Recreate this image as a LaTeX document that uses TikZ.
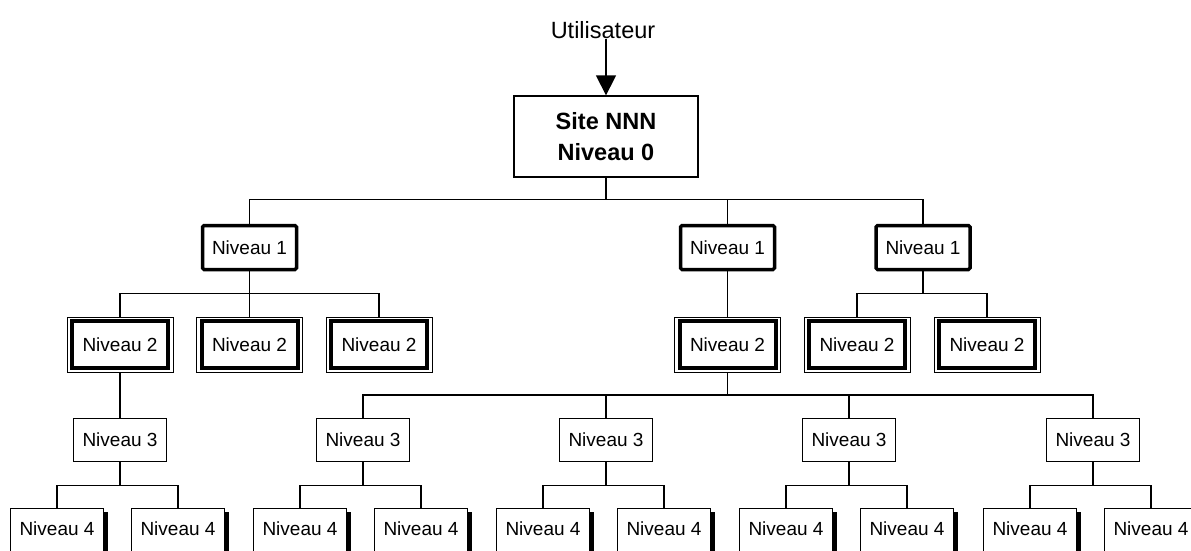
\documentclass[tikz,border=0pt]{standalone}
\usepackage{fontspec}
\setmainfont{Liberation Sans}
\usetikzlibrary{arrows.meta,shadows}
\begin{document}
\begin{tikzpicture}[x=1pt,y=-1pt,
  lbl/.style={font=\fontsize{19}{22}\selectfont, inner sep=0pt},
  conn/.style={line width=1.3pt},
  sitebox/.style={draw, line width=1.3pt, minimum width=184pt, minimum height=81pt, align=center,
     font=\bfseries\fontsize{23.5}{31}\selectfont, inner sep=0pt},
  levone/.style={lbl, draw, line width=3.5pt, rounded corners=1.5pt, minimum width=94pt, minimum height=44pt},
  levtwo/.style={lbl, draw, line width=1pt, minimum width=106pt, minimum height=55pt,
     path picture={\draw[line width=4pt] ([xshift=5pt,yshift=-4pt]path picture bounding box.north west) rectangle ([xshift=-5pt,yshift=4pt]path picture bounding box.south east);}},
  levthree/.style={lbl, draw, line width=1.3pt, minimum width=93pt, minimum height=43pt},
  levfour/.style={lbl, draw, fill=white, line width=1.3pt, minimum width=93pt, anchor=north,
     text height=27pt, text depth=25pt,
     drop shadow={shadow xshift=4pt, shadow yshift=-3pt, fill=black, opacity=1}},
]
\useasboundingbox (0,0) rectangle (1191,550);
\clip (0,0) rectangle (1191,550);
% top
\node[font=\fontsize{23.5}{28}\selectfont, inner sep=1pt, anchor=base] (user) at (603,38) {Utilisateur};
\node[sitebox] (site) at (606,136.5) {Site NNN\\Niveau 0};
\draw[conn, -{Triangle[width=20pt,length=20pt]}] (user.south -| site.north) -- (site.north);
% level 1
\node[levone] (a) at (249.5,247.5) {Niveau 1};
\node[levone] (b) at (727.5,247.5) {Niveau 1};
\node[levone] (c) at (923,247.5) {Niveau 1};
% level 2
\node[levtwo] (a1) at (120,344.5) {Niveau 2};
\node[levtwo] (a2) at (249.5,344.5) {Niveau 2};
\node[levtwo] (a3) at (379,344.5) {Niveau 2};
\node[levtwo] (b1) at (727.5,344.5) {Niveau 2};
\node[levtwo] (c1) at (857,344.5) {Niveau 2};
\node[levtwo] (c2) at (987,344.5) {Niveau 2};
% level 3
\node[levthree] (d) at (120,440) {Niveau 3};
\node[levthree] (e1) at (363,440) {Niveau 3};
\node[levthree] (e2) at (606,440) {Niveau 3};
\node[levthree] (e3) at (849,440) {Niveau 3};
\node[levthree] (e4) at (1093,440) {Niveau 3};
% level 4
\foreach \p/\x in {d/120,e1/363,e2/606,e3/849,e4/1093}{
  \node[levfour] (\p l) at (\x-63,508) {Niveau 4};
  \node[levfour] (\p r) at (\x+58,508) {Niveau 4};
}
% connectors
\foreach \ch in {a,b,c}{\draw[conn] (site.south) -- ++(0,22) -| (\ch.north);}
\foreach \ch in {a1,a2,a3}{\draw[conn] (a.south) -- ++(0,22) -| (\ch.north);}
\draw[conn] (b.south) -- (b1.north);
\foreach \ch in {c1,c2}{\draw[conn] (c.south) -- ++(0,22) -| (\ch.north);}
\draw[conn] (a1.south) -- (d.north);
\foreach \ch in {e1,e2,e3,e4}{\draw[conn] (b1.south) -- ++(0,22.5) -| (\ch.north);}
\foreach \p in {d,e1,e2,e3,e4}{
  \draw[conn] (\p.south) -- ++(0,23) -| (\p l.north);
  \draw[conn] (\p.south) -- ++(0,23) -| (\p r.north);
}
\end{tikzpicture}
\end{document}
